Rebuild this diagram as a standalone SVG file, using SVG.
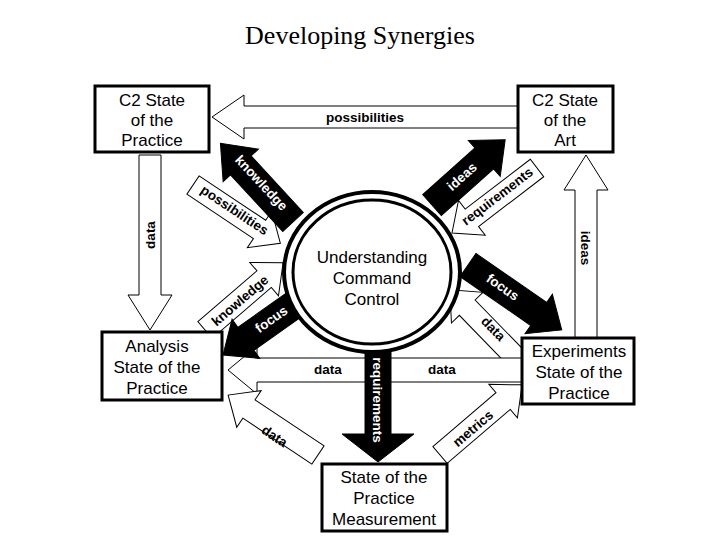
<svg xmlns="http://www.w3.org/2000/svg" width="720" height="540" viewBox="0 0 720 540">
<style>
.w{fill:#fff;stroke:#000;stroke-width:1}
.b{fill:#000;stroke:#000;stroke-width:1}
.box{fill:#fff;stroke:#000;stroke-width:3}
.t{font-family:"Liberation Sans",Arial,sans-serif;font-size:17px;text-anchor:middle;fill:#000}
.l{font-family:"Liberation Sans",Arial,sans-serif;font-size:13.5px;font-weight:bold;text-anchor:middle;fill:#000}
.lw{font-family:"Liberation Sans",Arial,sans-serif;font-size:13.5px;font-weight:bold;text-anchor:middle;fill:#fff}
</style>
<rect width="720" height="540" fill="#fff"/>
<text x="360" y="44" font-family="Liberation Serif,serif" font-size="26" text-anchor="middle">Developing Synergies</text>
<g id="connectors">
<polygon class="w" transform="translate(518,117) rotate(180)" points="0,-11 274,-11 274,-22 306,0 274,22 274,11 0,11"/>
<polygon class="w" transform="translate(150,155) rotate(90)" points="0,-11 140,-11 140,-22 175,0 140,22 140,11 0,11"/>
<polygon class="w" transform="translate(586,340) rotate(-90)" points="0,-11 150,-11 150,-22 185,0 150,22 150,11 0,11"/>
<polygon class="w" transform="translate(193,185) rotate(33.7)" points="0,-11 80,-11 80,-22 105,0 80,22 80,11 0,11"/>
<polygon class="w" transform="translate(537,168) rotate(142.6)" points="0,-11 82,-11 82,-22 107,0 82,22 82,11 0,11"/>
<polygon class="w" transform="translate(205,330) rotate(-40.7)" points="0,-11 78,-11 78,-22 103,0 78,22 78,11 0,11"/>
<polygon class="w" transform="translate(523,365) rotate(-134.2)" points="0,-11 80,-11 80,-22 105,0 80,22 80,11 0,11"/>
<polygon class="w" transform="translate(522,370) rotate(180)" points="0,-12 265,-12 265,-24 294,0 265,24 265,12 0,12"/>
<polygon class="w" transform="translate(318,455) rotate(-146.3)" points="0,-11 83,-11 83,-22 108,0 83,22 83,11 0,11"/>
<polygon class="w" transform="translate(440,455) rotate(-40.5)" points="0,-11 83,-11 83,-22 108,0 83,22 83,11 0,11"/>
<polygon class="b" transform="translate(293,222) rotate(-132.7)" points="0,-14 77,-14 77,-24 107,0 77,24 77,14 0,14"/>
<polygon class="b" transform="translate(432,205) rotate(-41.7)" points="0,-14 70,-14 70,-24 98,0 70,24 70,14 0,14"/>
<polygon class="b" transform="translate(308,295) rotate(144.8)" points="0,-14 76,-14 76,-24 104,0 76,24 76,14 0,14"/>
<polygon class="b" transform="translate(468,265) rotate(34.7)" points="0,-14 86,-14 86,-24 114,0 86,24 86,14 0,14"/>
<polygon class="b" transform="translate(378,350) rotate(90)" points="0,-13 84,-13 84,-36 112,0 84,36 84,13 0,13"/>
<text class="l" x="365" y="122">possibilities</text>
<text class="l" transform="translate(155,235) rotate(-90)">data</text>
<text class="l" transform="translate(581,248) rotate(90)">ideas</text>
<text class="lw" transform="translate(258,186) rotate(47)">knowledge</text>
<text class="l" transform="translate(232,214) rotate(33.7)">possibilities</text>
<text class="lw" transform="translate(465,180) rotate(-41.7)">ideas</text>
<text class="l" transform="translate(500,200) rotate(-37.4)">requirements</text>
<text class="l" transform="translate(243,304) rotate(-40.7)">knowledge</text>
<text class="lw" transform="translate(274,323) rotate(-35.2)">focus</text>
<text class="lw" transform="translate(500,291) rotate(34.7)">focus</text>
<text class="l" transform="translate(490,332) rotate(45.8)">data</text>
<text class="l" x="328" y="374">data</text>
<text class="l" x="442" y="374">data</text>
<text class="lw" transform="translate(373,400) rotate(90)">requirements</text>
<text class="l" transform="translate(272,440) rotate(33.7)">data</text>
<text class="l" transform="translate(476,432) rotate(-40.5)">metrics</text>
</g>
<g id="center">
<ellipse cx="372" cy="272" rx="88" ry="80" fill="#fff" stroke="#000" stroke-width="4"/>
<ellipse cx="372" cy="272" rx="79" ry="72" fill="#fff" stroke="#000" stroke-width="3"/>
<text class="t" x="372" y="263">Understanding</text>
<text class="t" x="372" y="284">Command</text>
<text class="t" x="372" y="305">Control</text>
</g>
<g id="practice">
<rect class="box" x="95" y="86" width="114" height="66"/>
<text class="t" x="152" y="106">C2 State</text>
<text class="t" x="152" y="126">of the</text>
<text class="t" x="152" y="146">Practice</text>
</g>
<g id="art">
<rect class="box" x="518" y="86" width="95" height="66"/>
<text class="t" x="565" y="106">C2 State</text>
<text class="t" x="565" y="126">of the</text>
<text class="t" x="565" y="146">Art</text>
</g>
<g id="analysis">
<rect class="box" x="102" y="332" width="120" height="68"/>
<text class="t" x="157" y="352">Analysis</text>
<text class="t" x="157" y="373">State of the</text>
<text class="t" x="157" y="394">Practice</text>
</g>
<g id="experiments">
<rect class="box" x="522" y="338" width="112" height="66"/>
<text class="t" x="579" y="357">Experiments</text>
<text class="t" x="579" y="378">State of the</text>
<text class="t" x="579" y="399">Practice</text>
</g>
<g id="measurement">
<rect class="box" x="322" y="464" width="125" height="67"/>
<text class="t" x="384" y="483">State of the</text>
<text class="t" x="384" y="504">Practice</text>
<text class="t" x="384" y="525">Measurement</text>
</g>
</svg>
